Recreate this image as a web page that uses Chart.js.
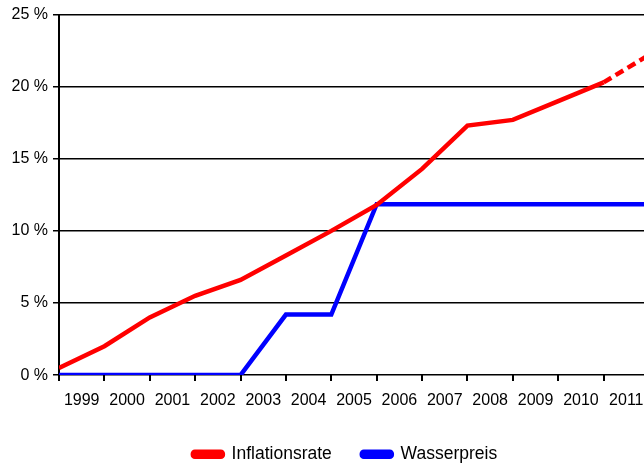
<!DOCTYPE html>
<html>
<head>
<meta charset="utf-8">
<script src="https://cdn.jsdelivr.net/npm/chart.js@4"></script>
<style>
  html, body { margin: 0; padding: 0; background: #fff; overflow: hidden; }
  #wrap { width: 690px; height: 473px; }
</style>
</head>
<body>
<div id="wrap"><canvas id="chart" width="690" height="473"></canvas></div>
<script>
const years = ['1999', '2000', '2001', '2002', '2003', '2004', '2005', '2006', '2007', '2008', '2009', '2010', '2011'];
// values at the year boundaries (14 points for 13 year bins)
const inflation = [0.5, 2.0, 4.0, 5.5, 6.6, 8.3, 10.0, 11.8, 14.3, 17.3, 17.7, 19.0, 20.3, 22.2];
const waterPrice = [0, 0, 0, 0, 0, 4.2, 4.2, 11.85, 11.85, 11.85, 11.85, 11.85, 11.85, 11.85];
const yTicks = [0, 5, 10, 15, 20, 25];

const toPoints = arr => arr.map((v, i) => ({ x: i, y: v }));
const font = { family: 'Liberation Sans, Arial, sans-serif', size: 16 };

new Chart(document.getElementById('chart'), {
    type: 'line',
    data: {
        labels: years,
        datasets: [{
            label: 'Inflationsrate',
            data: toPoints(inflation),
            xAxisID: 'xd',
            borderColor: '#ff0000',
            backgroundColor: '#ff0000',
            borderWidth: 4.5,
            pointRadius: 0,
            tension: 0,
            segment: {
                borderDash: ctx => ctx.p0DataIndex === inflation.length - 2 ? [9, 5] : undefined
            }
        }, {
            label: 'Wasserpreis',
            data: toPoints(waterPrice),
            xAxisID: 'xd',
            borderColor: '#0000ff',
            backgroundColor: '#0000ff',
            borderWidth: 4.5,
            pointRadius: 0,
            tension: 0
        }]
    },
    options: {
        responsive: false,
        animation: false,
        layout: { padding: { top: 14, right: 0, left: 0, bottom: 0 } },
        plugins: {
            tooltip: { enabled: false },
            legend: {
                position: 'bottom',
                labels: {
                    color: '#000',
                    font: { family: font.family, size: 17.5 },
                    boxWidth: 30,
                    boxHeight: 5,
                    padding: 30,
                    useBorderRadius: true,
                    borderRadius: 2
                }
            }
        },
        scales: {
            x: {
                type: 'category',
                offset: true,
                afterFit: s => { s.height = 40.4; },
                grid: { offset: true, drawOnChartArea: false, color: '#000', lineWidth: 2, tickLength: 6 },
                border: { display: false },
                ticks: { color: '#000', font: font, maxRotation: 0, autoSkip: false, padding: 10 }
            },
            xd: {
                type: 'linear',
                min: 0,
                max: years.length,
                display: false
            },
            y: {
                min: 0,
                max: 25,
                afterBuildTicks: s => { s.ticks = yTicks.map(v => ({ value: v })); },
                afterFit: s => { s.width = 59; },
                grid: { color: '#000', lineWidth: 1.5, tickLength: 6 },
                border: { color: '#000', width: 2 },
                ticks: { color: '#000', font: font, padding: 5, callback: v => v + ' %' }
            },
            yr: {
                position: 'right',
                min: 0,
                max: 25,
                afterFit: s => { s.width = 41; },
                grid: { display: false },
                border: { display: false },
                ticks: { display: false }
            }
        }
    }
});
</script>
</body>
</html>
